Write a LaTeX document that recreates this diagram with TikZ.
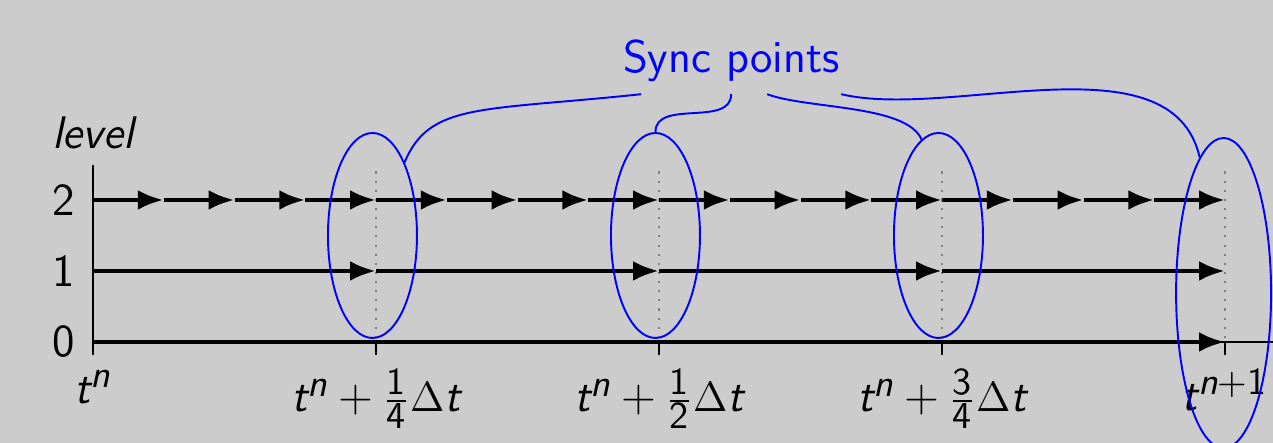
\documentclass[tikz,border=0pt]{standalone}
\renewcommand{\familydefault}{\sfdefault}
\usepackage[italic]{mathastext}
\usetikzlibrary{arrows.meta,shapes.geometric,positioning}

\begin{document}
\begin{tikzpicture}[
            x=0.7075cm, y=0.71cm,
            font=\fontsize{13}{15}\selectfont,
            steparrow/.style={line width=1.35pt, -{Latex[length=2.6mm,width=2mm]}},
            axisline/.style={line width=0.4pt},
            syncline/.style={gray, dotted, line width=0.6pt},
            syncring/.style={ellipse, draw=blue, line width=0.55pt, minimum width=0.89cm, minimum height=2.05cm, inner sep=0pt},
            syncwire/.style={blue, line width=0.55pt},
            levellabel/.style={anchor=east, inner sep=0pt},
            timelabel/.style={anchor=base}
        ]
            \fill[black!20] (-0.93cm,-1.01cm) rectangle (11.80cm,3.42cm);
            \useasboundingbox (-0.93cm,-1.01cm) rectangle (11.80cm,3.42cm);

            % axes
            \coordinate (origin) at (0,0);
            \draw[axisline] (0,-0.183) -- (0,2.493);
            \draw[axisline] (origin) -- (16.9,0);
            \node[anchor=base, font=\fontsize{13}{15}\selectfont\slshape] (ylab) at (0,2.732) {level};
            \foreach \l in {0,1,2}
                \node[levellabel] (lev\l) at (-0.24,\l) {\l};
            \foreach \i in {4,8,12,16}
                \draw[axisline] (\i,0) -- (\i,-0.183);
            \foreach \i in {4,8,12,16}
                \draw[syncline] (\i,0.056) -- (\i,2.423);

            % time steps on each level
            \draw[steparrow] (origin) -- (16,0);
            \foreach \i in {0,4,8,12}
                \draw[steparrow] (\i,1) -- ({\i+4},1);
            \foreach \i in {0,...,15}
                \draw[steparrow] (\i,2) -- ({\i+1},2);

            % time labels
            \node[timelabel] (tn) at (0,-0.86) {$t^n$};
            \node[timelabel] (tq1) at (4,-0.98) {$t^n + \frac{1}{4}\Delta t$};
            \node[timelabel] (tq2) at (8,-0.98) {$t^n + \frac{1}{2}\Delta t$};
            \node[timelabel] (tq3) at (12,-0.98) {$t^n + \frac{3}{4}\Delta t$};
            \node[timelabel] (tn1) at (16,-0.96) {$t^{n+1}$};

            % sync points
            \foreach \i/\q in {1/4,2/8,3/12}
                \node[syncring] (e\i) at ({\q-0.05},1.5) {};
            \node[syncring, minimum width=0.95cm, minimum height=3.1cm] (e4) at (15.98,0.69) {};
            \node[text=blue, anchor=south] (sync) at (9.02,3.49) {Sync points};

            \draw[syncwire] ([xshift=-0.9cm]sync.south) .. controls +(-1.6cm,-0.17cm) and +(0.25cm,0.6cm) .. (e1.north east);
            \draw[syncwire] (sync.south) to[out=-90,in=90] (e2.north);
            \draw[syncwire] ([xshift=0.36cm]sync.south) .. controls +(0.4cm,-0.15cm) and +(-0.15cm,0.35cm) .. (e3.100);
            \draw[syncwire] ([xshift=1.1cm]sync.south) .. controls +(1.09cm,-0.26cm) and +(-0.28cm,1.22cm) .. (e4.100);
        \end{tikzpicture}
\end{document}
